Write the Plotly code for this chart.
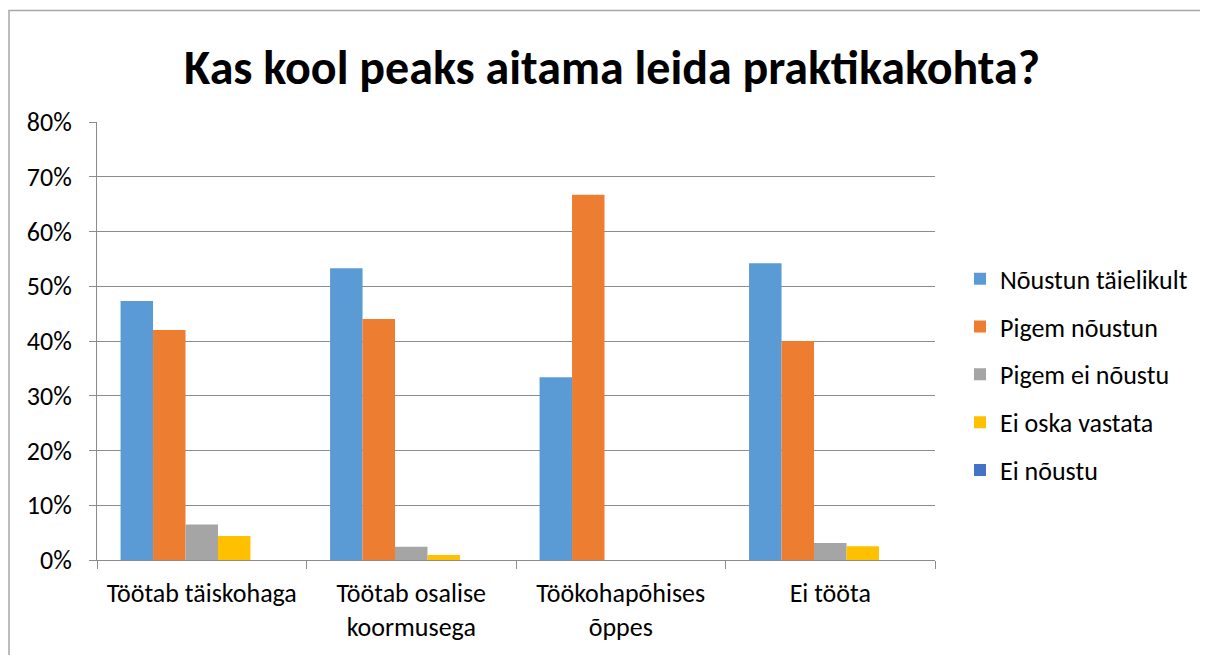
import plotly.graph_objects as go

categories = ["Töötab täiskohaga", "Töötab osalise<br>koormusega", "Töökohapõhises<br>õppes", "Ei tööta"]
series_names = ["Nõustun täielikult", "Pigem nõustun", "Pigem ei nõustu", "Ei oska vastata", "Ei nõustu"]
nous_taielikult = [0.473, 0.533, 0.334, 0.542]
pigem_nous = [0.420, 0.440, 0.667, 0.400]
pigem_ei = [0.065, 0.024, 0.0, 0.031]
ei_oska = [0.044, 0.009, 0.0, 0.025]
ei_nous = [0.0, 0.0, 0.0, 0.0]
values = [nous_taielikult, pigem_nous, pigem_ei, ei_oska, ei_nous]
colors = ["#5B9BD5", "#ED7D31", "#A5A5A5", "#FFC000", "#4472C4"]

FONT = "Carlito, Lato, 'Open Sans', sans-serif"

fig = go.Figure()
for name, vals, col in zip(series_names, values, colors):
    fig.add_trace(go.Bar(x=categories, y=vals, name=name, marker_color=col,
                         marker_line_width=0, legendgroup=name))

OFF = 8  # page body margin
W, H = 1208 - OFF, 655 - OFF
L = 97 - OFF
T = 122 - OFF
R = W - (935 - OFF)
B = H - (562 - OFF)
pw, ph = W - L - R, H - T - B

fig.update_layout(
    width=W, height=H,
    margin=dict(l=L, r=R, t=T, b=B),
    paper_bgcolor="white", plot_bgcolor="white",
    font=dict(family=FONT, size=26, color="#000000"),
    title=dict(text="<b>Kas kool peaks aitama leida praktikakohta?</b>",
               x=(612 - OFF) / W, xanchor="center", xref="container",
               y=1 - (67 - OFF) / H, yanchor="middle", yref="container",
               font=dict(family=FONT, size=48, color="#000000")),
    barmode="group", bargap=0.225, bargroupgap=0,
    showlegend=True,
    legend=dict(x=(960 - OFF - L) / pw, xanchor="left", y=(562 - 376) / ph, yanchor="middle",
                font=dict(family=FONT, size=26), tracegroupgap=11,
                traceorder="grouped", bgcolor="rgba(0,0,0,0)"),
    yaxis=dict(range=[0, 0.8], dtick=0.1, tickformat=".0%", showgrid=True,
               gridcolor="#8C8C8C", gridwidth=1, showline=True, linecolor="#8C8C8C",
               ticks="outside", ticklen=7, tickcolor="#8C8C8C", zeroline=False,
               ticklabelstandoff=12, fixedrange=True),
    xaxis=dict(showline=True, linecolor="#8C8C8C", ticks="outside", ticklen=8,
               tickcolor="#8C8C8C", tickson="boundaries", showgrid=False,
               tickangle=0, ticklabelstandoff=10, fixedrange=True),
)

# outer chart border
fig.add_shape(type="rect", xref="paper", yref="paper",
              x0=(9 - OFF - L) / pw, x1=(W + 40 - L) / pw,
              y0=-(B + 40) / ph, y1=(562 - 10) / ph,
              line=dict(color="#A6A6A6", width=1.5), fillcolor="rgba(0,0,0,0)", layer="below")

fig.write_html("out.html")
